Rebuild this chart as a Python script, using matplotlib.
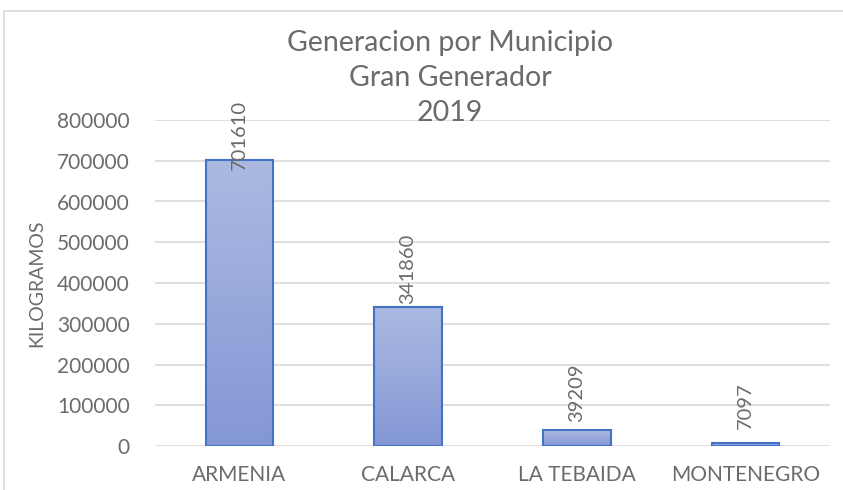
import numpy as np
import matplotlib
matplotlib.use("Agg")
import matplotlib.pyplot as plt
from matplotlib.colors import LinearSegmentedColormap
from matplotlib.patches import Rectangle

# datos del grafico
municipios = ["ARMENIA", "CALARCA", "LA TEBAIDA", "MONTENEGRO"]
kilogramos = [701610, 341860, 39209, 7097]
y_ticks = [0, 100000, 200000, 300000, 400000, 500000, 600000, 700000, 800000]
titulo = "Generacion por Municipio\nGran Generador\n2019"
y_label = "KILOGRAMOS"

# desplazamiento de las etiquetas (puntos) sobre cada barra
label_offsets = [18, 27, 27, 27]

gris = "#6B6B6B"
plt.rcParams["font.family"] = ["Lato", "DejaVu Sans"]

fig = plt.figure(figsize=(8.43, 4.90), dpi=100)
ax = fig.add_axes([155 / 843, 1 - 446 / 490, 675 / 843, 326 / 490])

x = np.arange(len(municipios))
bars = ax.bar(x, kilogramos, width=0.4, color="none", edgecolor="#4472C4",
              linewidth=1.5, zorder=3)

# relleno degradado dentro de cada barra
cmap = LinearSegmentedColormap.from_list("grad", ["#8397D5", "#ACBAE2"])
grad = np.linspace(0, 1, 256).reshape(-1, 1)
for b in bars:
    im = ax.imshow(grad, cmap=cmap, origin="lower", aspect="auto",
                   extent=[b.get_x(), b.get_x() + b.get_width(), 0, b.get_height()],
                   zorder=2)
    im.set_clip_path(b)

for xi, val, off in zip(x, kilogramos, label_offsets):
    ax.annotate(str(val), (xi, val), xytext=(0, off), textcoords="offset points",
                rotation=90, ha="center", va="center", fontsize=14.5, color=gris)

ax.set_xlim(-0.5, len(municipios) - 0.5)
ax.set_ylim(0, 800000)
ax.set_yticks(y_ticks)
ax.set_yticklabels([str(v) for v in y_ticks])
ax.set_xticks(x)
ax.set_xticklabels(municipios)
ax.tick_params(axis="both", length=0, labelsize=15, labelcolor=gris)
ax.tick_params(axis="x", pad=14)
ax.tick_params(axis="y", pad=18)
ax.grid(axis="y", color="#D9D9D9", linewidth=1.2, zorder=0)
ax.set_axisbelow(True)
for s in ax.spines.values():
    s.set_visible(False)

fig.text(37 / 843, 1 - 283 / 490, y_label, rotation=90, ha="center", va="center",
         fontsize=14, color=gris)
fig.text(450 / 843, 1 - 78 / 490, titulo, ha="center", va="center", fontsize=20.5,
         color=gris, linespacing=1.42)

# borde del area del grafico
fig.patches.append(Rectangle((4 / 843, -0.1), 1.2, 1 - 11 / 490 + 0.1,
                             transform=fig.transFigure, fill=False,
                             edgecolor="#D9D9D9", linewidth=1.2))

fig.savefig("out.png", dpi=100)
